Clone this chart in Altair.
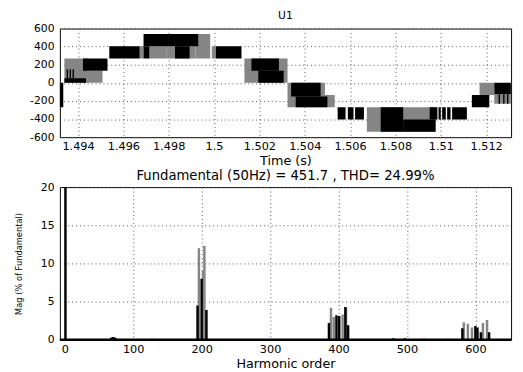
import altair as alt
import pandas as pd

# ---------------- top panel: U1 waveform (blocks) ----------------
# black trace blocks: start time, end time, low value, high value
black_t0 = [1.49318, 1.49340, 1.49350, 1.49363, 1.49376, 1.49422, 1.49538, 1.49689, 1.49689,
            1.49797, 1.49828, 1.50008, 1.50165, 1.50195, 1.50340, 1.50360, 1.50545, 1.50590,
            1.50622, 1.50735, 1.50834, 1.50951, 1.50990, 1.51006, 1.51028, 1.51050, 1.51137,
            1.51236, 1.51255, 1.51275, 1.51292]
black_t1 = [1.49335, 1.49435, 1.49356, 1.49369, 1.49382, 1.49530, 1.49672, 1.49797, 1.49715,
            1.49930, 1.49892, 1.50121, 1.50286, 1.50307, 1.50470, 1.50500, 1.50580, 1.50615,
            1.50661, 1.50834, 1.50977, 1.50985, 1.51000, 1.51022, 1.51043, 1.51115, 1.51214,
            1.51309, 1.51261, 1.51281, 1.51298]
black_lo = [-270, 0, 50, 50, 50, 135, 270, 405, 270,
            405, 270, 270, 135, 0, -150, -270, -405, -405,
            -405, -540, -540, -405, -405, -405, -405, -405, -270,
            -125, -230, -230, -230]
black_hi = [0, 50, 150, 150, 150, 270, 405, 540, 405,
            540, 405, 405, 270, 135, 0, -150, -270, -270,
            -270, -270, -405, -270, -270, -270, -270, -270, -135,
            0, -125, -125, -125]

# gray trace blocks
gray_t0 = [1.49340, 1.49422, 1.49672, 1.49715, 1.49789, 1.49918, 1.49990, 1.50134, 1.50324,
           1.50489, 1.50674, 1.51171, 1.51236]
gray_t1 = [1.49443, 1.49508, 1.49689, 1.49789, 1.49918, 1.49983, 1.50008, 1.50324, 1.50489,
           1.50532, 1.50977, 1.51236, 1.51309]
gray_lo = [0, 0, 270, 270, 270, 270, 270, 0, -270, -270, -540, -135, -230]
gray_hi = [270, 135, 405, 405, 405, 540, 405, 270, 0, -135, -270, 0, -125]

time_ticks = [1.494, 1.496, 1.498, 1.5, 1.502, 1.504, 1.506, 1.508, 1.51, 1.512]
volt_ticks = [-600, -400, -200, 0, 200, 400, 600]

# ---------------- bottom panel: harmonic spectrum ----------------
black_order = [1, 194, 200, 207, 386, 397, 401, 410, 414, 581, 600, 603, 608, 620,
               68, 71, 74, 128, 480, 497, 525, 560]
black_mag = [100, 4.5, 8.0, 3.9, 2.2, 3.2, 3.1, 4.3, 1.9, 1.5, 1.8, 1.6, 1.0, 1.0,
             0.3, 0.35, 0.25, 0.15, 0.2, 0.2, 0.15, 0.15]
gray_order = [196, 202, 204, 389, 393, 406, 411, 583, 589, 595, 611, 617]
gray_mag = [12.0, 9.0, 12.3, 4.2, 3.0, 3.3, 4.2, 2.3, 2.1, 1.6, 2.2, 2.6]

harm_ticks = [0, 100, 200, 300, 400, 500, 600]
mag_ticks = [0, 5, 10, 15, 20]

FONT = "DejaVu Sans"
GRID = dict(grid=True, gridDash=[1, 3], gridColor="#555555", gridWidth=1)

blk = pd.DataFrame({"t0": black_t0, "t1": black_t1, "lo": black_lo, "hi": black_hi, "trace": "b"})
gry = pd.DataFrame({"t0": gray_t0, "t1": gray_t1, "lo": gray_lo, "hi": gray_hi, "trace": "a"})
wave = pd.concat([gry, blk], ignore_index=True)

xt = alt.Scale(domain=[1.4932, 1.5131], nice=False, zero=False)
yt = alt.Scale(domain=[-600, 600], nice=False, zero=False)

x_top_axis = alt.Axis(values=time_ticks, format=".3~f", title="Time (s)", ticks=False,
                      labelPadding=4, titlePadding=2, labelFontSize=11.5, titleFontSize=13,
                      domain=False, **GRID)
y_top_axis = alt.Axis(values=volt_ticks, format="d", title=None, ticks=False,
                      labelExpr="replace(datum.label, '\u2212', '-')",
                      labelPadding=6, labelFontSize=11, domain=False, minExtent=47, **GRID)

top = alt.Chart(wave).mark_rect(clip=True).encode(
    x=alt.X("t0:Q", scale=xt, axis=x_top_axis),
    x2="t1:Q",
    y=alt.Y("lo:Q", scale=yt, axis=y_top_axis),
    y2="hi:Q",
    color=alt.Color("trace:N", scale=alt.Scale(domain=["a", "b"], range=["#858585", "#000000"]),
                    legend=None),
).properties(
    width=461, height=111,
    title=alt.TitleParams("U1", fontSize=11, font=FONT, fontWeight="normal", offset=2),
)

spec = pd.concat([
    pd.DataFrame({"order": gray_order, "mag": gray_mag, "trace": "a"}),
    pd.DataFrame({"order": black_order, "mag": black_mag, "trace": "b"}),
], ignore_index=True)

xs = alt.Scale(domain=[0, 645], nice=False, zero=False)
ys = alt.Scale(domain=[0, 20], nice=False)

x_bot_axis = alt.Axis(values=harm_ticks, format="d", title="Harmonic order", ticks=False,
                      labelPadding=4, titlePadding=3, labelFontSize=11.5, titleFontSize=13,
                      domain=False, **GRID)
y_bot_axis = alt.Axis(values=mag_ticks, format="d", title="Mag (% of Fundamental)", ticks=False,
                      labelPadding=6, labelFontSize=11, titleFontSize=8.5, titlePadding=17,
                      domain=False, minExtent=20, **GRID)

bars = alt.Chart(spec).mark_bar(size=2.5, clip=True).encode(
    x=alt.X("order:Q", scale=xs, axis=x_bot_axis),
    y=alt.Y("mag:Q", scale=ys, axis=y_bot_axis),
    color=alt.Color("trace:N", scale=alt.Scale(domain=["a", "b"], range=["#858585", "#000000"]),
                    legend=None),
    order=alt.Order("trace:N"),
)
base_line = alt.Chart(pd.DataFrame({"v": [0]})).mark_rule(color="#000000", strokeWidth=2.5).encode(
    y=alt.Y("v:Q", scale=ys, axis=y_bot_axis),
)

bottom = alt.layer(bars, base_line).properties(
    width=461, height=156,
    title=alt.TitleParams("Fundamental (50Hz) = 451.7 , THD= 24.99%", fontSize=13.5,
                          font=FONT, fontWeight="normal", offset=-1),
)

chart = alt.vconcat(top, bottom, spacing=1).properties(
    padding={"left": 5, "top": -3, "right": 2, "bottom": 0},
    background="white",
).configure_view(
    stroke="black", strokeWidth=1,
).configure_axis(
    labelFont=FONT, titleFont=FONT, labelColor="black", titleColor="black",
    titleFontWeight="normal",
).configure_title(color="black")

chart.save("out.html", embed_options={"renderer": "svg", "actions": False})
